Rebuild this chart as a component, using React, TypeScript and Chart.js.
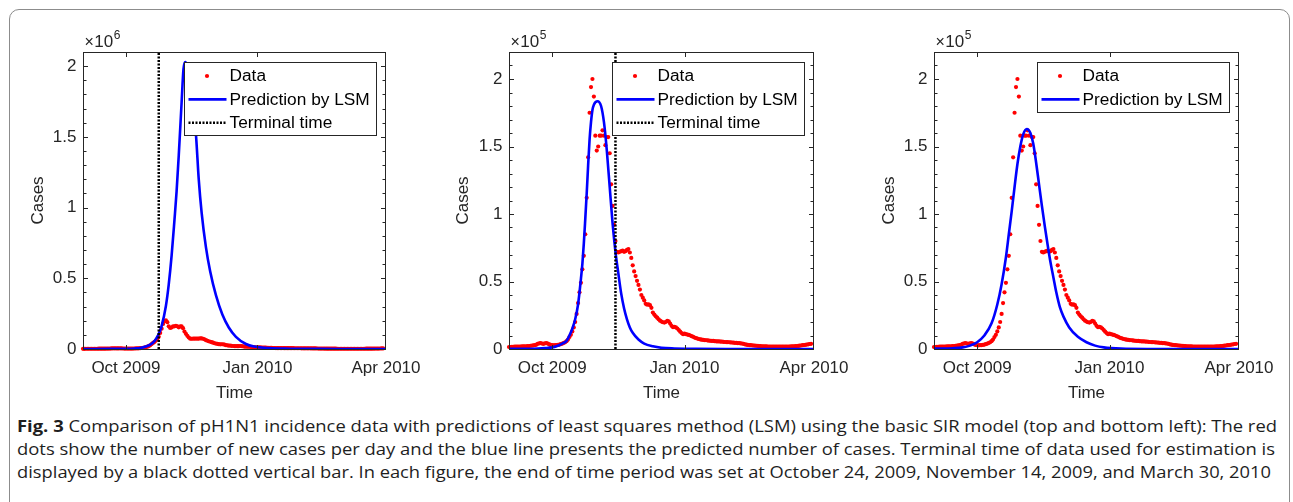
import React, { useEffect, useLayoutEffect, useRef } from 'react';
import { Chart, registerables } from 'chart.js';

Chart.register(...registerables);

// ---------- DATA (day 0 = 1 Sep 2009, daily new cases) ----------
const dailyNewCases = [
  1500, 1500, 1600, 1600, 1700, 1700, 1800, 1800, 1800, 1900, 1900, 2000, 2000, 2100, 2200, 2400, 2500, 2700,
  2800, 3200, 3800, 4200, 4400, 4000, 3800, 4200, 4400, 4000, 3400, 3000, 2800, 2700, 2800, 2900,
  3000, 3300, 3600, 4000, 4400, 5000, 5800, 7000, 8800, 10500, 13000, 16000, 20000, 26000, 34000, 42000, 49000, 59000, 69000,
  85000, 112000, 142000, 175000, 194000, 200000, 187000, 158000, 147000, 150000, 158000, 158000, 162000, 158000, 151000, 157000, 157000, 145000, 122000, 106000, 92000, 80000,
  72000, 71500, 72000, 72500, 72800, 72000, 72500, 73500, 74000, 71500, 67500, 62000, 57500, 54000, 50500, 47500, 44000, 40000, 38000, 36000,
  33500, 32800, 33000, 32500, 30500, 27000, 25500, 24200, 23200, 22000, 21000, 20300, 19800, 19600, 20000, 20800, 20500, 18800, 17200, 16200,
  16500, 16000, 15200, 14000, 12800, 11800, 11000,
  11400, 11000, 10700, 10400, 10000, 9500, 9000, 8500, 8100, 7700, 7400, 7100, 6900, 6700,
  6600, 6500, 6400, 6200, 6100, 6000, 6000, 5800, 5700, 5600,
  5600, 5500, 5400, 5300, 5200, 5100, 5100, 5000, 4900, 4800,
  4700, 4600, 4500, 4400, 4300, 4200, 4000, 3800, 3500, 3200,
  3000, 2900, 2800, 2700, 2600, 2500, 2400, 2300, 2200, 2100,
  2000, 2000, 1900, 1900, 1800, 1800, 1800, 1700, 1700, 1700,
  1700, 1700, 1700, 1700, 1700, 1700, 1700, 1700, 1800, 1800,
  1900, 1900, 2000, 2100, 2200, 2300, 2500, 2600, 2800, 2900,
  3100, 3300, 3500, 3700, 3800,
];

const xTickDays = [30, 122, 212];
const xTickLabels = ['Oct 2009', 'Jan 2010', 'Apr 2010'];
const X_MIN_DAY = 0;
const X_MAX_DAY = 212;

// Terminal time of data used for estimation: 24 Oct 2009, 14 Nov 2009
const terminalDays = [53, 74];

// Prediction by LSM, panel 1 (terminal 24 Oct)
const predDaysA = [0, 20, 30, 36, 40, 44, 47, 50, 52.5, 55, 58, 60, 62, 64, 65.5, 67, 69, 70.3, 71.5, 73, 75, 77, 79, 81, 83, 86, 89, 93, 97.5, 102, 107, 114, 120, 130, 145, 165, 190, 212];
const predCasesA = [300, 1000, 2000, 4000, 7000, 17000, 30000, 55000, 95000, 160000, 300000, 450000, 650000, 900000, 1100000, 1350000, 1720000, 1950000, 2000000, 1970000, 1870000, 1700000, 1500000, 1180000, 950000, 710000, 540000, 375000, 240000, 150000, 85000, 35000, 17000, 6000, 2000, 700, 300, 200];

// Prediction by LSM, panel 2 (terminal 14 Nov)
const predDaysB = [0, 10, 20, 25, 30, 33, 37, 40, 42, 44, 46, 48, 50, 51, 52, 53, 54, 55, 56, 57, 58, 59, 61.5, 64, 66, 68, 70, 72, 74, 76, 78, 80, 82, 84, 86, 90, 94, 100, 106, 115, 130, 160, 212];
const predCasesB = [100, 200, 400, 700, 1200, 2000, 4000, 6000, 10000, 15000, 22000, 33000, 52000, 63000, 78000, 96000, 115000, 136000, 155000, 168000, 177000, 181000, 183500, 180000, 168000, 147000, 120000, 93000, 72000, 56000, 41000, 30000, 22000, 16000, 12000, 7000, 4000, 2000, 900, 400, 100, 30, 10];

// Prediction by LSM, panel 3 (end 30 Mar 2010)
const predDaysC = [0, 13, 20, 25, 30, 35, 40, 44, 47, 50, 52, 54, 56, 58, 60, 62, 64.5, 67, 69, 71, 73, 75, 77, 79, 81, 83, 85, 87.5, 90, 94, 100, 106, 112, 118, 130, 150, 212];
const predCasesC = [300, 600, 1200, 2500, 5000, 10000, 19000, 33000, 48000, 68000, 85000, 102000, 120000, 137000, 150000, 159000, 163000, 160000, 152000, 138000, 122000, 106000, 91000, 77000, 64000, 53000, 42000, 31000, 24000, 16000, 9000, 5000, 2500, 1200, 300, 50, 10];

const seriesLabels = ['Data', 'Prediction by LSM', 'Terminal time'];
const xAxisTitle = 'Time';
const yAxisTitle = 'Cases';
const yExponents = [6, 5, 5];
const yMaxima = [2.07e6, 2.2e5, 2.2e5];

const captionBold = 'Fig. 3';
const captionLines = [
  ' Comparison of pH1N1 incidence data with predictions of least squares method (LSM) using the basic SIR model (top and bottom left): The red',
  'dots show the number of new cases per day and the blue line presents the predicted number of cases. Terminal time of data used for estimation is',
  'displayed by a black dotted vertical bar. In each figure, the end of time period was set at October 24, 2009, November 14, 2009, and March 30, 2010',
];

// ---------- STYLE / LAYOUT ----------
const FONT = '"Liberation Sans", Arial, Helvetica, sans-serif';
const AXIS_COLOR = '#262626';
const CANVAS_H = 410;
const PLOT_TOP = 52;
const PLOT_BOTTOM = 349;

const PANELS = [
  { left: 0, width: 430, plotLeft: 83, plotRight: 387, casesCenter: 38, predDays: predDaysA, predCases: predCasesA, terminal: terminalDays[0] as number | null, exp: yExponents[0], yMax: yMaxima[0] },
  { left: 430, width: 430, plotLeft: 79, plotRight: 384, casesCenter: 33, predDays: predDaysB, predCases: predCasesB, terminal: terminalDays[1] as number | null, exp: yExponents[1], yMax: yMaxima[1] },
  { left: 860, width: 433, plotLeft: 74, plotRight: 379, casesCenter: 29, predDays: predDaysC, predCases: predCasesC, terminal: null as number | null, exp: yExponents[2], yMax: yMaxima[2] },
];

const matlabAxes = {
  id: 'matlabAxes',
  afterDatasetsDraw(chart: any, _args: any, opts: any) {
    const { ctx, chartArea: a } = chart;
    const xs = chart.scales.x;
    const ys = chart.scales.y;
    const L = Math.round(a.left) + 0.5;
    const R = Math.round(a.right) - 0.5;
    const T = Math.round(a.top) + 0.5;
    const B = Math.round(a.bottom) + 0.5;
    ctx.save();
    ctx.setLineDash([]);
    ctx.strokeStyle = AXIS_COLOR;
    ctx.lineWidth = 1;
    ctx.beginPath();
    ys.ticks.forEach((t: any) => {
      if (t.value <= ys.min || t.value >= ys.max) return;
      const p = Math.round(ys.getPixelForValue(t.value)) + 0.5;
      const len = t.label ? 4.5 : 3;
      ctx.moveTo(L, p); ctx.lineTo(L + len, p);
      ctx.moveTo(R, p); ctx.lineTo(R - len, p);
    });
    xs.ticks.forEach((t: any) => {
      if (t.value <= xs.min || t.value >= xs.max) return;
      const p = Math.round(xs.getPixelForValue(t.value)) + 0.5;
      ctx.moveTo(p, B); ctx.lineTo(p, B - 4.5);
      ctx.moveTo(p, T); ctx.lineTo(p, T + 4.5);
    });
    ctx.stroke();
    ctx.strokeRect(L, T, R - L, B - T);

    // exponent label  x10^n
    ctx.fillStyle = AXIS_COLOR;
    ctx.textAlign = 'left';
    ctx.textBaseline = 'alphabetic';
    let x = a.left + 1.5;
    const base = a.top - 5.5;
    ctx.font = `16px ${FONT}`;
    ctx.fillText('\u00d7', x, base);
    x += ctx.measureText('\u00d7').width + 0.5;
    ctx.font = `17px ${FONT}`;
    ctx.fillText('10', x, base);
    x += ctx.measureText('10').width + 0.5;
    ctx.font = `12px ${FONT}`;
    ctx.fillText(String(opts.exponent), x, base - 7.5);

    // legend
    const items = chart.data.datasets;
    const rowH = 23.4;
    const w = 192;
    const h = Math.round(items.length * rowH + 3);
    const lx = Math.round(a.right - 10 - w) + 0.5;
    const ly = Math.round(a.top + 10) + 0.5;
    ctx.fillStyle = '#ffffff';
    ctx.fillRect(lx, ly, w, h);
    ctx.strokeStyle = AXIS_COLOR;
    ctx.lineWidth = 1;
    ctx.strokeRect(lx, ly, w, h);
    items.forEach((ds: any, i: number) => {
      const cy = ly + 13.5 + i * rowH;
      if (ds.showLine === false) {
        ctx.fillStyle = ds.pointBackgroundColor;
        ctx.beginPath();
        ctx.arc(lx + 22.5, cy, ds.pointRadius, 0, Math.PI * 2);
        ctx.fill();
      } else {
        ctx.strokeStyle = ds.borderColor;
        ctx.lineWidth = ds.borderWidth;
        ctx.setLineDash(ds.borderDash || []);
        ctx.beginPath();
        ctx.moveTo(lx + 4, cy);
        ctx.lineTo(lx + 42, cy);
        ctx.stroke();
        ctx.setLineDash([]);
      }
      ctx.fillStyle = '#000000';
      ctx.font = `17.3px ${FONT}`;
      ctx.textBaseline = 'middle';
      ctx.textAlign = 'left';
      ctx.fillText(ds.label, lx + 45, cy + 0.5);
    });
    ctx.restore();
  },
};

function Panel({ cfg }: { cfg: typeof PANELS[number] }) {
  const ref = useRef<HTMLCanvasElement>(null);
  useEffect(() => {
    const unit = Math.pow(10, cfg.exp);
    const datasets: any[] = [
      {
        label: seriesLabels[0],
        type: 'scatter',
        data: dailyNewCases.map((v, i) => ({ x: X_MIN_DAY + i, y: v })),
        showLine: false,
        pointRadius: 2.1,
        pointBackgroundColor: '#ff0000',
        pointBorderWidth: 0,
        pointBorderColor: '#ff0000',
        clip: 4,
        order: 3,
      },
      {
        label: seriesLabels[1],
        type: 'line',
        data: cfg.predDays.map((d, i) => ({ x: d, y: cfg.predCases[i] })),
        borderColor: '#0000ff',
        borderWidth: 2.6,
        pointRadius: 0,
        cubicInterpolationMode: 'monotone',
        fill: false,
        order: 2,
      },
    ];
    if (cfg.terminal !== null) {
      datasets.push({
        label: seriesLabels[2],
        type: 'line',
        data: [{ x: cfg.terminal, y: 0 }, { x: cfg.terminal, y: cfg.yMax }],
        borderColor: '#000000',
        borderWidth: 2.5,
        borderDash: [2, 1.5],
        pointRadius: 0,
        fill: false,
        order: 1,
      });
    }
    const tickFont = { family: FONT, size: 17 };
    const chart = new Chart(ref.current as HTMLCanvasElement, {
      type: 'scatter',
      data: { datasets },
      plugins: [matlabAxes],
      options: {
        animation: false,
        responsive: false,
        maintainAspectRatio: false,
        events: [],
        layout: { padding: { left: 0, top: PLOT_TOP, right: cfg.width - cfg.plotRight, bottom: 0 } },
        plugins: {
          legend: { display: false },
          tooltip: { enabled: false },
          matlabAxes: { exponent: cfg.exp },
        } as any,
        scales: {
          x: {
            type: 'linear',
            min: X_MIN_DAY,
            max: X_MAX_DAY,
            grid: { display: false, drawTicks: false },
            border: { display: false },
            afterBuildTicks: (s: any) => { s.ticks = xTickDays.map((v) => ({ value: v })); },
            afterFit: (s: any) => { s.height = CANVAS_H - PLOT_BOTTOM; },
            ticks: {
              autoSkip: false,
              maxRotation: 0,
              minRotation: 0,
              padding: 9.5,
              color: AXIS_COLOR,
              font: tickFont,
              callback: (_v: any, idx: number) => xTickLabels[idx],
            },
            title: { display: true, text: xAxisTitle, color: AXIS_COLOR, font: tickFont, padding: { top: 0, bottom: 6 } },
          },
          y: {
            type: 'linear',
            min: 0,
            max: cfg.yMax,
            grid: { display: false, drawTicks: false },
            border: { display: false },
            afterFit: (s: any) => { s.width = cfg.plotLeft; },
            ticks: {
              stepSize: unit / 10,
              autoSkip: false,
              padding: 6.5,
              color: AXIS_COLOR,
              font: tickFont,
              callback: (v: any) => {
                const k = Math.round((Number(v) / unit) * 10);
                if (Math.abs(Number(v) - cfg.yMax) < unit / 100 && k % 5 !== 0) return '';
                return k % 5 === 0 ? String(k / 10) : '';
              },
            },
            title: { display: true, text: yAxisTitle, color: AXIS_COLOR, font: tickFont, padding: { top: cfg.casesCenter - 10.2, bottom: 0 } },
          },
        },
      } as any,
    });
    return () => chart.destroy();
  }, []);
  return (
    <canvas
      ref={ref}
      width={cfg.width}
      height={CANVAS_H}
      style={{ position: 'absolute', left: cfg.left, top: 0, width: cfg.width, height: CANVAS_H }}
    />
  );
}

const CAPTION_TARGETS = [1260, 1258, 1254];

function Caption() {
  const r0 = useRef<HTMLDivElement>(null);
  const r1 = useRef<HTMLDivElement>(null);
  const r2 = useRef<HTMLDivElement>(null);
  const refs = [r0, r1, r2];
  useLayoutEffect(() => {
    refs.forEach((r, i) => {
      const el = r.current;
      if (!el) return;
      el.style.transform = 'none';
      const w = el.getBoundingClientRect().width;
      if (w > 0) el.style.transform = `scaleX(${CAPTION_TARGETS[i] / w})`;
    });
  }, []);
  const lineStyle = (i: number): React.CSSProperties => ({
    position: 'absolute',
    left: 16.5,
    top: 414 + i * 23,
    lineHeight: '23px',
    fontSize: 16.5,
    whiteSpace: 'nowrap',
    transformOrigin: 'left center',
    display: 'inline-block',
    fontFamily: '"Open Sans", "Noto Sans", sans-serif',
    color: '#1e1e1e',
  });
  return (
    <>
      <div ref={r0} style={lineStyle(0)}>
        <b>{captionBold}</b>{captionLines[0]}
      </div>
      <div ref={r1} style={lineStyle(1)}>{captionLines[1]}</div>
      <div ref={r2} style={lineStyle(2)}>{captionLines[2]}</div>
    </>
  );
}

export default function App() {
  return (
    <div style={{ position: 'relative', width: 1293, height: 502, overflow: 'hidden', background: '#ffffff' }}>
      <style>{'html,body{margin:0;padding:0;overflow:hidden;background:#fff;}'}</style>
      <div
        style={{
          position: 'absolute',
          left: 9,
          top: 9,
          width: 1281,
          height: 600,
          boxSizing: 'border-box',
          border: '1px solid #8c8c8c',
          borderRadius: 10,
        }}
      />
      {PANELS.map((p, i) => (
        <Panel key={i} cfg={p} />
      ))}
      <Caption />
    </div>
  );
}
